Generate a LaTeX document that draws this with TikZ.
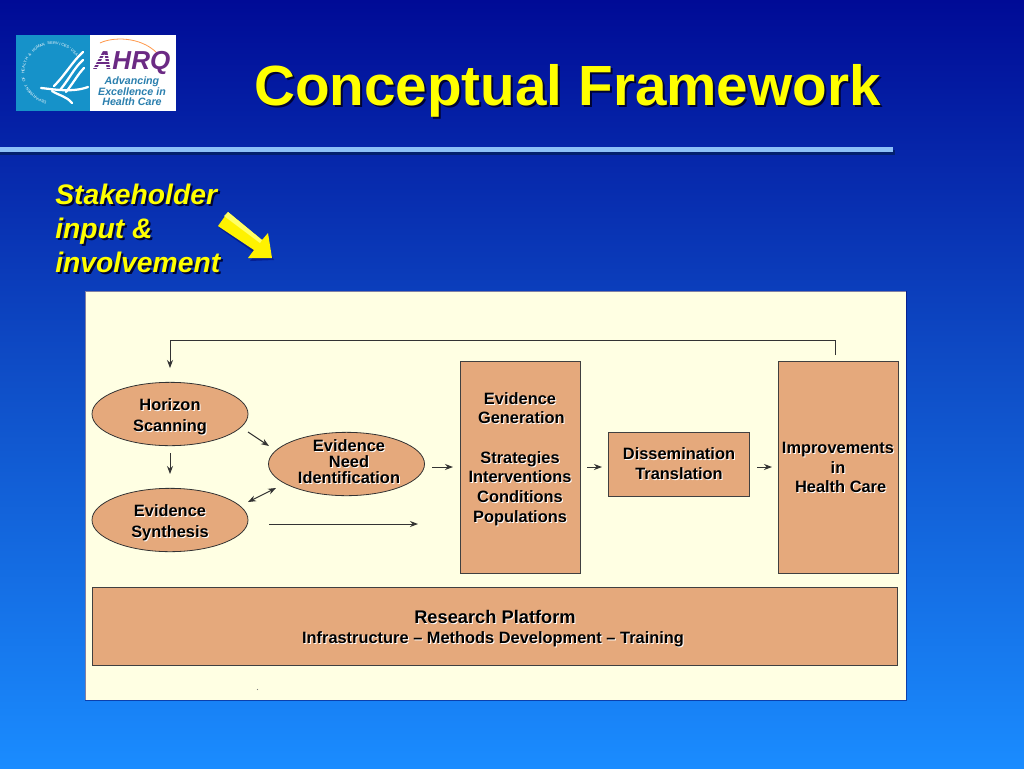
\documentclass[tikz,border=0pt]{standalone}
\usepackage{fontspec}
\setmainfont{Liberation Sans}
\usetikzlibrary{shapes.geometric,arrows.meta}
\definecolor{bgtop}{HTML}{000B96}
\definecolor{bgmid}{HTML}{0F4FC8}
\definecolor{bgbot}{HTML}{1A8CFF}
\definecolor{panel}{HTML}{FFFFE3}
\definecolor{boxfill}{HTML}{E5A97C}
\definecolor{rulecol}{HTML}{8CC0F8}
\definecolor{rulesh}{HTML}{02206E}
\definecolor{logoblue}{HTML}{1692C9}
\definecolor{ahrq}{HTML}{6B2A84}
\definecolor{tagc}{HTML}{2A7FAE}
\definecolor{ylw}{HTML}{FFFF00}
\newcommand{\shtext}[5]{%
  \node[#4,text=black!85!blue,opacity=.9] at (#2+2,#3+2) {#5};
  \node[#4,text=ylw] (#1) at (#2,#3) {#5};}
\newcommand{\lbl}[5][lab]{%
  \node[#1,text=white] at (#3+1,#4+1) {#5};
  \node[#1,text=black] (#2) at (#3,#4) {#5};}
\tikzset{
  lab/.style={font=\fontsize{12.3}{14.75}\bfseries\selectfont,align=center,inner sep=0pt},
  labwide/.style={font=\fontsize{12.3}{15.75}\bfseries\selectfont,align=center,inner sep=0pt},
  labtight/.style={font=\fontsize{12.3}{12}\bfseries\selectfont,align=center,inner sep=0pt},
  labbig/.style={font=\fontsize{13.7}{15}\bfseries\selectfont,align=center,inner sep=0pt},
  titlet/.style={font=\fontsize{42.5}{48}\bfseries\selectfont,inner sep=0pt},
  stake/.style={font=\fontsize{21.2}{25.5}\bfseries\itshape\selectfont,align=left,inner sep=0pt,anchor=north west},
  oval/.style={ellipse,draw=black!80,fill=boxfill,line width=.6pt,inner sep=0pt},
  rbox/.style={rectangle,draw=black!75,fill=boxfill,line width=.5pt,inner sep=0pt},
  flow/.style={draw=black!80,line width=.75pt,-{Stealth[length=6pt,width=4.5pt]}},
  flowtwo/.style={draw=black!80,line width=.75pt,{Stealth[length=6pt,width=4.5pt]}-{Stealth[length=6pt,width=4.5pt]}},
}
\begin{document}
\begin{tikzpicture}[x=0.75pt,y=-0.75pt]
\useasboundingbox (0,0) rectangle (1024,768);
% background
\shade[top color=bgtop,bottom color=bgbot,middle color=bgmid] (0,0) rectangle (1024,768);
% logo
\fill[logoblue] (16,35) rectangle (90,111);
\fill[white] (90,35) rectangle (176,111);
\foreach \ch [count=\i] in {D,E,P,A,R,T,M,E,N,T,{ },O,F,{ },H,E,A,L,T,H,{ },\&,{ },H,U,M,A,N,{ },S,E,R,V,I,C,E,S,-,U,S,A}
  \node[inner sep=0pt,text=white,font=\fontsize{2.9}{3}\selectfont,rotate={260-\i*5.4-90}] at ({53+30*cos(260-\i*5.4)},{73-30*sin(260-\i*5.4)}) {\ch};
\begin{scope}[white,line width=1.7pt,line cap=round]
\draw (83,52) .. controls (72,62) and (66,74) .. (54,86);
\draw (83,60) .. controls (74,68) and (70,78) .. (60,90);
\draw (84,68) .. controls (78,74) and (74,82) .. (66,92);
\draw (41,88) .. controls (52,89) and (72,93) .. (88,87);
\draw (52,91) .. controls (60,96) and (66,96) .. (72,103);
\end{scope}
\draw[orange!60!pink,line width=.6pt] (100,43) .. controls (112,37) and (140,36) .. (157,53);
\node[inner sep=0pt,text=ahrq,font=\fontsize{19.5}{20}\bfseries\itshape\selectfont] (ahrqt) at (132,62.5) {AHRQ};
\foreach \yy in {55,58,61,64,67}
  \draw[white,line width=.5pt] (92,\yy) -- (112,\yy);
\node[inner sep=0pt,text=tagc,align=center,font=\fontsize{8}{7.9}\bfseries\itshape\selectfont] (ahrqs) at (132,91.5) {Advancing\\Excellence in\\Health Care};
% title
\shtext{title}{567.5}{91}{titlet}{Conceptual Framework}
% rule
\fill[rulesh] (0,150) rectangle (895,155);
\fill[rulecol] (0,147) rectangle (893,152);
% stakeholder
\shtext{stk}{55}{183.5}{stake}{Stakeholder\\input \&\\involvement}
% yellow arrow
\fill[black!60!blue,opacity=.45] (222,221) -- (258,250) -- (264,241) -- (274,260) -- (250,261) -- (256,254) -- (219,228) -- cycle;
\fill[ylw!90!orange] (228,212) -- (262,240) -- (268,233) -- (272,258) -- (248,258) -- (254,250) -- (218,226) -- cycle;
\fill[ylw!60!white] (228,212) -- (262,240) -- (260,243) -- (224,216) -- cycle;
% panel
\fill[panel] (85,291) rectangle (906,700);
\draw[black!60!blue,line width=.3pt,opacity=.5] (85,291) rectangle (906,700);
\fill[black!50] (257.5,689.5) circle (.6);
% shapes
\node[oval,minimum width=117pt,minimum height=47.5pt] (hs) at (170,414) {};
\node[oval,minimum width=117pt,minimum height=47.5pt] (es) at (170,520) {};
\node[oval,minimum width=117pt,minimum height=47.5pt] (en) at (346.5,464) {};
\node[rbox,minimum width=90pt,minimum height=159pt] (eg) at (520,467) {};
\node[rbox,minimum width=106pt,minimum height=48pt] (dt) at (679,464) {};
\node[rbox,minimum width=90pt,minimum height=159pt] (im) at (838,467) {};
\node[rbox,minimum width=604pt,minimum height=58.5pt] (rp) at (495,626) {};
% labels
\lbl[labwide]{l1}{170}{416.5}{Horizon\\Scanning}
\lbl[labwide]{l2}{170}{522.5}{Evidence\\Synthesis}
\lbl[labtight]{l3}{349}{461.5}{Evidence\\Need\\Identification}
\lbl{l4}{520}{459}{Evidence\\\hspace*{2pt}Generation\\[14.75pt]Strategies\\Interventions\\Conditions\\Populations}
\lbl{l5}{679}{463.5}{Dissemination\\Translation}
\lbl{l6}{838}{467.5}{Improvements\\in\\\hspace*{4pt}Health Care}
\lbl[labbig]{l7}{495}{617}{Research Platform}
\lbl{l8}{493}{639}{Infrastructure – Methods Development – Training}
% connectors
\coordinate (fbstart) at (835,355);
\coordinate (fbcorner1) at (835,340);
\coordinate (fbcorner2) at (170,340);
\coordinate (fbend) at (170,368);
\draw[flow,line width=.6pt] (fbstart) -- (fbcorner1) -- (fbcorner2) -- (fbend);
\coordinate (a1) at (170,453); \coordinate (a2) at (170,474);
\draw[flow] (a1) -- (a2);
\coordinate (b1) at (248,432); \coordinate (b2) at (269,446);
\draw[flow] (b1) -- (b2);
\coordinate (c1) at (248,502); \coordinate (c2) at (276,488);
\draw[flowtwo] (c1) -- (c2);
\coordinate (d1) at (269,524); \coordinate (d2) at (418,524);
\draw[flow] (d1) -- (d2);
\coordinate (e1) at (432,467); \coordinate (e2) at (453,467);
\draw[flow] (e1) -- (e2);
\coordinate (f1) at (587,467); \coordinate (f2) at (602,467);
\draw[flow] (f1) -- (f2);
\coordinate (g1) at (757,467); \coordinate (g2) at (772,467);
\draw[flow] (g1) -- (g2);
\end{tikzpicture}
\end{document}
